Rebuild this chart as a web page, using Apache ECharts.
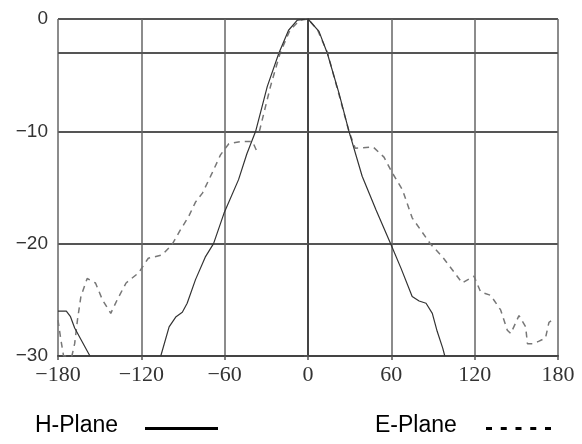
<!DOCTYPE html>
<html>
<head>
<meta charset="utf-8">
<script src="https://cdn.jsdelivr.net/npm/echarts@6/dist/echarts.min.js"></script>
<style>html,body{margin:0;padding:0;background:#fff;}#c{width:582px;height:444px;}</style>
</head>
<body>
<div id="c"></div>
<script>
// Tick values
const xTicks = [-180, -120, -60, 0, 60, 120, 180];
const yTicks = [-30, -20, -10, 0];
const refLevels = [-3];
const seriesNames = ['H-Plane', 'E-Plane'];

// H-Plane (solid) : angle (deg) / relative level (dB); null = break
const hAngles = [-180, -174, -171, -168, -157, -130, -106, -100, -95, -90.5, -87, -81, -74, -68, -60.5, -50, -44, -37.7, -29.3, -21, -14, -7.7, 0, 7.9, 13.9, 22.3, 29.5, 39, 49, 59.5, 67, 75, 80, 85, 89.5, 93, 97, 98.5];
const hGain   = [-26, -26, -26.5, -27.5, -30, null, -30, -27.4, -26.5, -26.1, -25.3, -23.2, -21.2, -20, -17.3, -14.3, -12, -10, -6, -3.05, -1, -0.1, 0, -1.1, -3.05, -6.6, -10, -14, -17, -20, -22.2, -24.7, -25.1, -25.3, -26.2, -27.8, -29.3, -30];

// E-Plane (dashed)
const eAngles = [-180, -178, -176, -170, -168, -166, -163.5, -159, -153, -148, -142, -137, -131, -122, -115, -105, -98, -92, -86, -81, -76, -69, -63, -57, -48, -40, -36, -35.5, -35, -27, -20, -13, -6, 0, 7, 14, 22, 29.5, 34, 47, 54.7, 60.7, 68, 75, 88, 97, 105, 111, 119.5, 124.3, 131.5, 138.7, 143.5, 146, 151.9, 156.7, 158, 161.5, 166, 171, 173.5, 176];
const eGain   = [-26.8, -28.5, -30, -30, -28.9, -26.8, -24.7, -23.1, -23.5, -25, -26.2, -24.9, -23.5, -22.6, -21.3, -21, -20.1, -18.8, -17.6, -16.3, -15.5, -13.7, -12.1, -11.1, -10.9, -10.9, -12, null, -10, -6, -3, -1, -0.1, 0, -1, -3, -6.6, -10, -11.5, -11.4, -12.3, -13.7, -15.2, -17.7, -20, -21.2, -22.5, -23.5, -22.9, -24.3, -24.6, -25.9, -27.7, -28, -26.4, -27.4, -28.9, -28.9, -28.7, -28.4, -27, -26.8];

function zip(a, v) { return a.map((x, i) => [x, v[i] === null ? '-' : v[i]]); }

const chart = echarts.init(document.getElementById('c'), null, {renderer: 'canvas'});
chart.setOption({
  animation: false,
  backgroundColor: '#ffffff',
  grid: {left: 58, right: 24, top: 19, bottom: 88},
  xAxis: {
    type: 'value', min: xTicks[0], max: xTicks[xTicks.length - 1], interval: 60,
    axisLine: {show: true, onZero: false, lineStyle: {color: '#444', width: 2}},
    axisTick: {show: true, length: 4, lineStyle: {color: '#555', width: 1.5}},
    axisLabel: {color: '#333', fontFamily: 'Liberation Serif', fontSize: 22, margin: 8,
      formatter: v => String(v).replace('-', '\u2212')},
    splitLine: {show: true, lineStyle: {color: '#666', width: 1.5}}
  },
  yAxis: {
    type: 'value', min: yTicks[0], max: yTicks[yTicks.length - 1], interval: 10,
    axisLine: {show: true, lineStyle: {color: '#444', width: 2}},
    axisTick: {show: true, length: 4, lineStyle: {color: '#555', width: 1.5}},
    axisLabel: {color: '#333', fontFamily: 'Liberation Sans', fontSize: 19, margin: 10,
      formatter: v => String(v).replace('-', '\u2212')},
    splitLine: {show: true, lineStyle: {color: '#555', width: 1.8}}
  },
  series: [
    {
      name: seriesNames[0], type: 'line', data: zip(hAngles, hGain), symbol: 'none',
      connectNulls: false,
      lineStyle: {color: '#333', width: 1.2, type: 'solid'},
      markLine: {
        silent: true, symbol: 'none', label: {show: false},
        lineStyle: {color: '#555', width: 1.8, type: 'solid'},
        data: refLevels.map(v => ({yAxis: v}))
      },
      z: 3
    },
    {
      name: seriesNames[1], type: 'line', data: zip(eAngles, eGain), symbol: 'none',
      connectNulls: false,
      lineStyle: {color: '#777', width: 1.5, type: [6, 5]},
      z: 2
    }
  ],
  graphic: [
    {type: 'text', left: 35, top: 414, style: {text: seriesNames[0], fill: '#000', font: '23px "Liberation Sans"'}},
    {type: 'line', shape: {x1: 145, y1: 428.5, x2: 218, y2: 428.5}, style: {stroke: '#000', lineWidth: 3}},
    {type: 'text', left: 375, top: 414, style: {text: seriesNames[1], fill: '#000', font: '23px "Liberation Sans"'}},
    {type: 'line', shape: {x1: 486, y1: 428.5, x2: 551, y2: 428.5}, style: {stroke: '#000', lineWidth: 3, lineDash: [6, 8.75]}}
  ]
});
</script>
</body>
</html>
